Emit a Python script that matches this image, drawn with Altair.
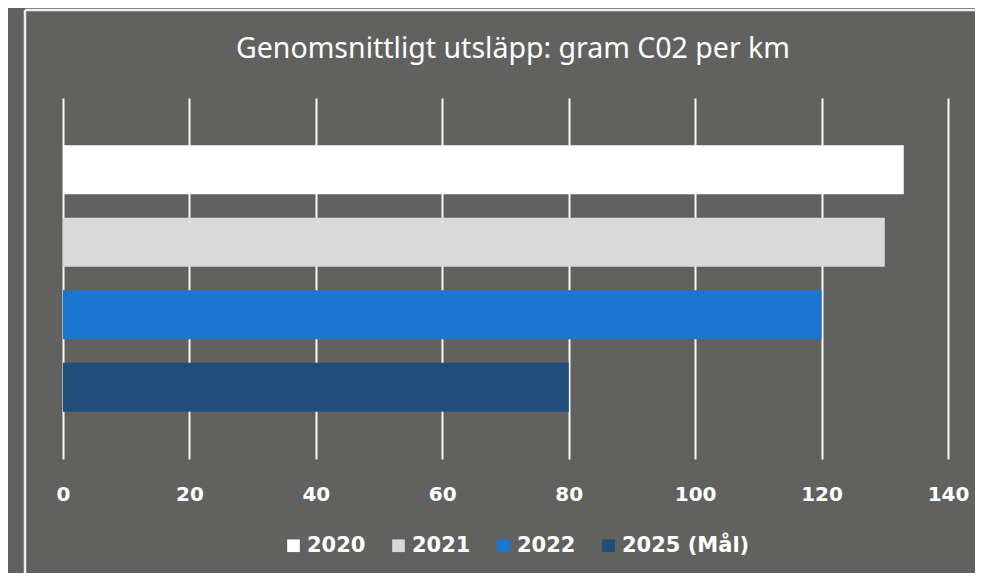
import altair as alt
import pandas as pd

years = ["2020", "2021", "2022", "2025 (Mål)"]
values = [133, 130, 120, 80]
colors = ["#ffffff", "#d9d9d9", "#1a76d2", "#1f4e79"]
ticks = [0, 20, 40, 60, 80, 100, 120, 140]
title_text = "Genomsnittligt utsläpp: gram C02 per km"

df = pd.DataFrame({"year": years, "value": values})

bars = alt.Chart(df).mark_bar().encode(
    x=alt.X("value:Q", scale=alt.Scale(domain=[0, 140], nice=False),
            axis=alt.Axis(values=ticks, title=None, domain=False, ticks=False,
                          grid=True, gridColor="#ffffff", gridWidth=2, gridOpacity=0.95,
                          labelFont="DejaVu Sans", labelFontWeight="bold", labelFontSize=20,
                          labelColor="#ffffff", labelPadding=25, labelFlush=False)),
    y=alt.Y("year:N", sort=years, axis=None,
            scale=alt.Scale(paddingInner=0.324, paddingOuter=0.652)),
    color=alt.Color("year:N", sort=years,
                    scale=alt.Scale(domain=years, range=colors),
                    legend=alt.Legend(orient="none", direction="horizontal", title=None,
                                      legendX=220, legendY=437,
                                      symbolType="square", symbolSize=160,
                                      symbolStrokeWidth=0, symbolOpacity=1,
                                      labelFont="DejaVu Sans", labelFontWeight="bold",
                                      labelFontSize=21, labelColor="#ffffff",
                                      labelOffset=3, columnPadding=22, padding=0)),
)

frame_data = alt.Data(values=[{}])
frame_top = alt.Chart(frame_data).mark_rule(color="#eeeeee", strokeWidth=2.5).encode(
    x=alt.value(-38), x2=alt.value(940), y=alt.value(-88)
)
frame_left = alt.Chart(frame_data).mark_rule(color="#eeeeee", strokeWidth=2.5).encode(
    x=alt.value(-38), y=alt.value(-88), y2=alt.value(500)
)
title = alt.Chart(alt.Data(values=[{"t": title_text}])).mark_text(
    font="Noto Sans", fontSize=28.5, color="#ffffff", align="center", baseline="alphabetic"
).encode(x=alt.value(450), y=alt.value(-40), text="t:N")

chart = alt.layer(frame_top, frame_left, title, bars).properties(
    width=885, height=361,
    autosize=alt.AutoSizeParams(type="none"),
    padding={"left": 55, "top": 90, "right": 27, "bottom": 114},
).configure(background="#616260").configure_view(stroke=None)

chart.save("out.html", embed_options={"renderer": "svg", "actions": False})
